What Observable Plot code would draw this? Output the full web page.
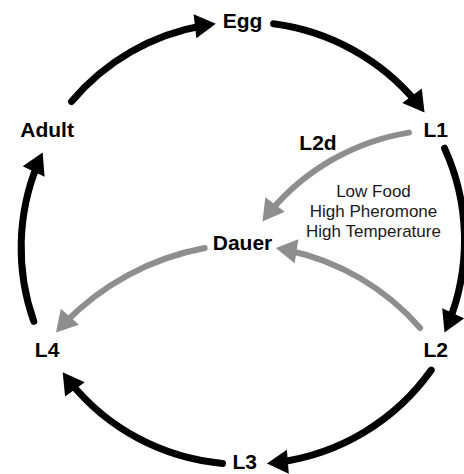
<!DOCTYPE html>
<html>
<head>
<meta charset="utf-8">
<script src="https://cdn.jsdelivr.net/npm/d3@7"></script>
<script src="https://cdn.jsdelivr.net/npm/@observablehq/plot@0.6"></script>
<style>
  html, body { margin: 0; padding: 0; background: #ffffff; }
  #chart { width: 464px; height: 474px; }
</style>
</head>
<body>
<div id="chart"></div>
<script>
// ---- Data (diagram units: life-cycle circle has radius ~1, centred on Dauer) ----
const stageNames = ["Egg", "L1", "L2", "L3", "L4", "Adult", "Dauer", "L2d"];
const stageX     = [0.00, 0.87, 0.87, 0.01, -0.88, -0.88, 0.00, 0.34];
const stageY     = [1.00, 0.51, -0.48, -0.985, -0.48, 0.51, 0.00, 0.45];

const conditionLines = ["Low Food", "High Pheromone", "High Temperature"];
const conditionX = 0.59;
const conditionY = 0.15;

const arrowFrom  = ["Adult", "Egg", "L1", "L2", "L3", "L4", "L1", "L2", "Dauer"];
const arrowTo    = ["Egg", "L1", "L2", "L3", "L4", "Adult", "Dauer", "Dauer", "L4"];
const arrowRoute = ["cycle", "cycle", "cycle", "cycle", "cycle", "cycle", "dauer", "dauer", "dauer"];
const arrowX1    = [-0.77, 0.14, 0.91, 0.85, -0.09, -0.94, 0.75, 0.80, -0.17];
const arrowY1    = [0.64, 0.99, 0.43, -0.57, -0.99, -0.35, 0.50, -0.38, -0.02];
const arrowX2    = [-0.12, 0.82, 0.91, 0.11, -0.81, -0.90, 0.09, 0.15, -0.84];
const arrowY2    = [0.99, 0.59, -0.40, -0.99, -0.58, 0.41, 0.10, -0.02, -0.40];
const arrowBend  = [21.7, 23, 24.5, 25, 24.6, 22.5, -22, -20, -19];

// ---- Layout ----
const W = 464, H = 474;
const xDomain = [-1.09, 1.0];
const yDomain = [-1.04, 1.095];
const kx = W / (xDomain[1] - xDomain[0]);
const ky = H / (yDomain[1] - yDomain[0]);
const headR = 9;

const stages = stageNames.map((name, i) => ({name, x: stageX[i], y: stageY[i]}));
const edges = arrowFrom.map((from, i) => ({
  from, to: arrowTo[i], route: arrowRoute[i],
  x1: arrowX1[i], y1: arrowY1[i], x2: arrowX2[i], y2: arrowY2[i], bend: arrowBend[i]
}));

// Arrow heads: filled triangles aligned with the arc's end tangent
const heads = edges.map(e => {
  const theta = Math.atan2((e.y2 - e.y1) * ky, (e.x2 - e.x1) * kx);
  const phi = theta - e.bend * Math.PI / 180;
  const back = 1.555 * headR;
  return {
    route: e.route,
    hx: e.x2 - back * Math.cos(phi) / kx,
    hy: e.y2 - back * Math.sin(phi) / ky,
    rotate: 90 - phi * 180 / Math.PI
  };
});

const colorScale = {domain: ["cycle", "dauer"], range: ["#000000", "#8e8e8e"]};

// one arrow mark per edge, since the bend is a per-mark option
const shafts = edges.map(e => Plot.arrow([e], {
  x1: "x1", y1: "y1", x2: "x2", y2: "y2", bend: e.bend,
  stroke: "route", strokeWidth: e.route === "cycle" ? 7 : 6,
  headLength: 0, insetEnd: 12,
  strokeLinecap: "round", strokeLinejoin: "round"
}));

const chart = Plot.plot({
  width: W,
  height: H,
  margin: 0,
  x: {domain: xDomain, axis: null},
  y: {domain: yDomain, axis: null},
  color: colorScale,
  style: {background: "#ffffff", fontFamily: "'Liberation Sans', Arial, sans-serif", overflow: "hidden"},
  marks: [
    ...shafts,
    Plot.dot(heads, {
      x: "hx", y: "hy", symbol: "triangle", r: headR, rotate: "rotate",
      fill: "route", stroke: "none"
    }),
    Plot.text(stages, {
      x: "x", y: "y", text: "name", fontSize: 21, fontWeight: "bold", fill: "#000000"
    }),
    Plot.text([conditionLines.join("\n")], {
      x: () => conditionX, y: () => conditionY, text: d => d,
      fontSize: 17, lineHeight: 1.18, fill: "#1a1a1a"
    })
  ]
});

document.getElementById("chart").appendChild(chart);
</script>
</body>
</html>
